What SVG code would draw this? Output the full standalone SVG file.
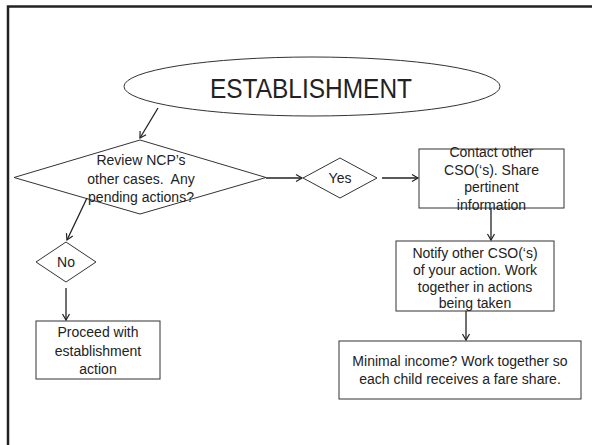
<svg xmlns="http://www.w3.org/2000/svg" width="592" height="445" viewBox="0 0 592 445">
  <style>
    .shape { fill: #ffffff; stroke: #333333; stroke-width: 1; }
    .conn { fill: none; stroke: #222222; stroke-width: 1.3; }
    .txt { font-family: "Liberation Sans", Arial, sans-serif; font-size: 14px; fill: #222222; text-anchor: middle; }
    .title { font-family: "Liberation Sans", Arial, sans-serif; font-size: 28px; fill: #222222; text-anchor: middle; }
  </style>
  <defs>
    <marker id="arrow" markerWidth="10" markerHeight="10" refX="8" refY="5" orient="auto" markerUnits="userSpaceOnUse">
      <path d="M2,1.5 L8,5 L2,8.5" fill="none" stroke="#222222" stroke-width="1.2"/>
    </marker>
  </defs>

  <rect width="592" height="445" fill="#ffffff"/>
  <!-- slide frame: left and top edges only -->
  <path d="M8,445 V6.5 H592" fill="none" stroke="#222222" stroke-width="2.5"/>

  <g id="establishment">
    <ellipse class="shape" cx="312" cy="86.5" rx="188" ry="29.5"/>
    <text class="title" x="311" y="98" textLength="202" lengthAdjust="spacingAndGlyphs">ESTABLISHMENT</text>
  </g>

  <g id="review">
    <polygon class="shape" points="140,140 266,177.5 140,214 14,177.5"/>
    <text class="txt" x="141" y="165">Review NCP’s</text>
    <text class="txt" x="141" y="184" xml:space="preserve">other cases.  Any</text>
    <text class="txt" x="141" y="202">pending actions?</text>
  </g>

  <g id="no">
    <polygon class="shape" points="66,242 96,262 66,282 36,262"/>
    <text class="txt" x="66" y="267">No</text>
  </g>

  <g id="proceed">
    <rect class="shape" x="36" y="321" width="124" height="58"/>
    <text class="txt" x="98" y="337">Proceed with</text>
    <text class="txt" x="98" y="356">establishment</text>
    <text class="txt" x="98" y="374">action</text>
  </g>

  <g id="yes">
    <polygon class="shape" points="340,158 377,178 340,198 303,178"/>
    <text class="txt" x="340" y="183">Yes</text>
  </g>

  <g id="contact">
    <rect class="shape" x="419" y="149" width="145" height="59"/>
    <text class="txt" x="491.5" y="157">Contact other</text>
    <text class="txt" x="491.5" y="175">CSO(‘s). Share</text>
    <text class="txt" x="491.5" y="192">pertinent</text>
    <text class="txt" x="491.5" y="210">information</text>
  </g>

  <g id="notify">
    <rect class="shape" x="396" y="241" width="158" height="70"/>
    <text class="txt" x="475" y="258">Notify other CSO(‘s)</text>
    <text class="txt" x="475" y="275">of your action. Work</text>
    <text class="txt" x="475" y="292">together in actions</text>
    <text class="txt" x="475" y="308">being taken</text>
  </g>

  <g id="minimal">
    <rect class="shape" x="339" y="341" width="242" height="58"/>
    <text class="txt" x="460" y="366">Minimal income? Work together so</text>
    <text class="txt" x="460" y="384">each child receives a fare share.</text>
  </g>

  <g id="connectors">
    <line class="conn" x1="158" y1="108" x2="140" y2="138" marker-end="url(#arrow)"/>
    <line class="conn" x1="87" y1="198" x2="67" y2="240" marker-end="url(#arrow)"/>
    <line class="conn" x1="66" y1="288" x2="66" y2="320" marker-end="url(#arrow)"/>
    <line class="conn" x1="266" y1="178" x2="302" y2="178" marker-end="url(#arrow)"/>
    <line class="conn" x1="382" y1="178" x2="418" y2="178" marker-end="url(#arrow)"/>
    <line class="conn" x1="491" y1="208" x2="491" y2="240" marker-end="url(#arrow)"/>
    <line class="conn" x1="466" y1="311" x2="466" y2="340" marker-end="url(#arrow)"/>
  </g>
</svg>
